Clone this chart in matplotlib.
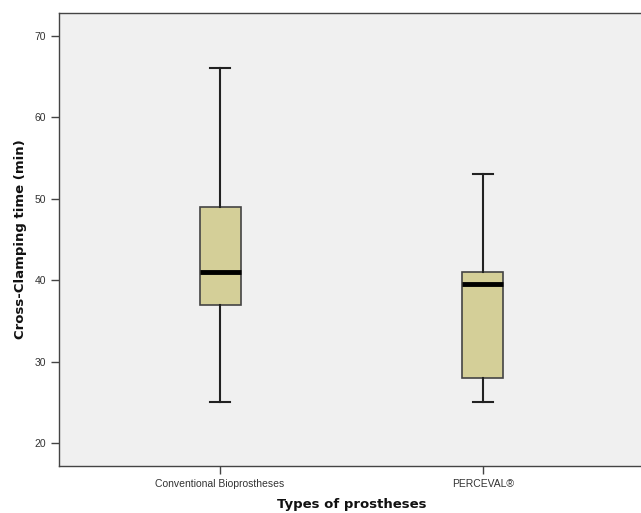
import matplotlib
matplotlib.use("Agg")
import matplotlib.pyplot as plt

# =========================
# Data
# =========================
groups = ["Conventional Bioprostheses", "PERCEVAL®"]
whisker_low = [25, 25]
q1 = [37, 28]
median = [41, 39.5]
q3 = [49, 41]
whisker_high = [66, 53]

y_ticks = [20, 30, 40, 50, 60, 70]

# =========================
# Plot
# =========================
fig = plt.figure(figsize=(6.41, 5.13), dpi=100)
ax = fig.add_axes([0.092, 0.0916, 0.9126, 0.883])
ax.set_facecolor("#f0f0f0")

stats = []
for i, name in enumerate(groups):
    stats.append({
        "label": name,
        "whislo": whisker_low[i],
        "q1": q1[i],
        "med": median[i],
        "q3": q3[i],
        "whishi": whisker_high[i],
        "fliers": [],
    })

ax.bxp(
    stats,
    positions=[1, 2],
    widths=0.156,
    patch_artist=True,
    showfliers=False,
    boxprops=dict(facecolor="#d4cf98", edgecolor="#444444", linewidth=1.2),
    medianprops=dict(color="black", linewidth=3.5, solid_capstyle="butt"),
    whiskerprops=dict(color="#222222", linewidth=1.5),
    capprops=dict(color="#222222", linewidth=1.5),
    capwidths=0.076,
)

ax.set_xlim(1 - 161 / 262.7, 2 + 161 / 262.7)
ax.set_ylim(17.2, 72.8)
ax.set_yticks(y_ticks)
ax.set_xticks([1, 2])
ax.set_xticklabels(groups)

for sp in ax.spines.values():
    sp.set_color("#444444")
    sp.set_linewidth(1.0)

ax.tick_params(axis="both", direction="out", length=6, width=1.0,
               color="#444444", labelsize=7.5, labelcolor="#333333")
for lab in ax.get_xticklabels() + ax.get_yticklabels():
    lab.set_family("Liberation Sans")

ax.set_ylabel("Cross-Clamping time (min)", fontsize=9.5, fontweight="bold",
              color="#111111", labelpad=5)
ax.set_xlabel("Types of prostheses", fontsize=9.5, fontweight="bold",
              color="#111111", labelpad=6)

fig.savefig("out.png", dpi=100)
